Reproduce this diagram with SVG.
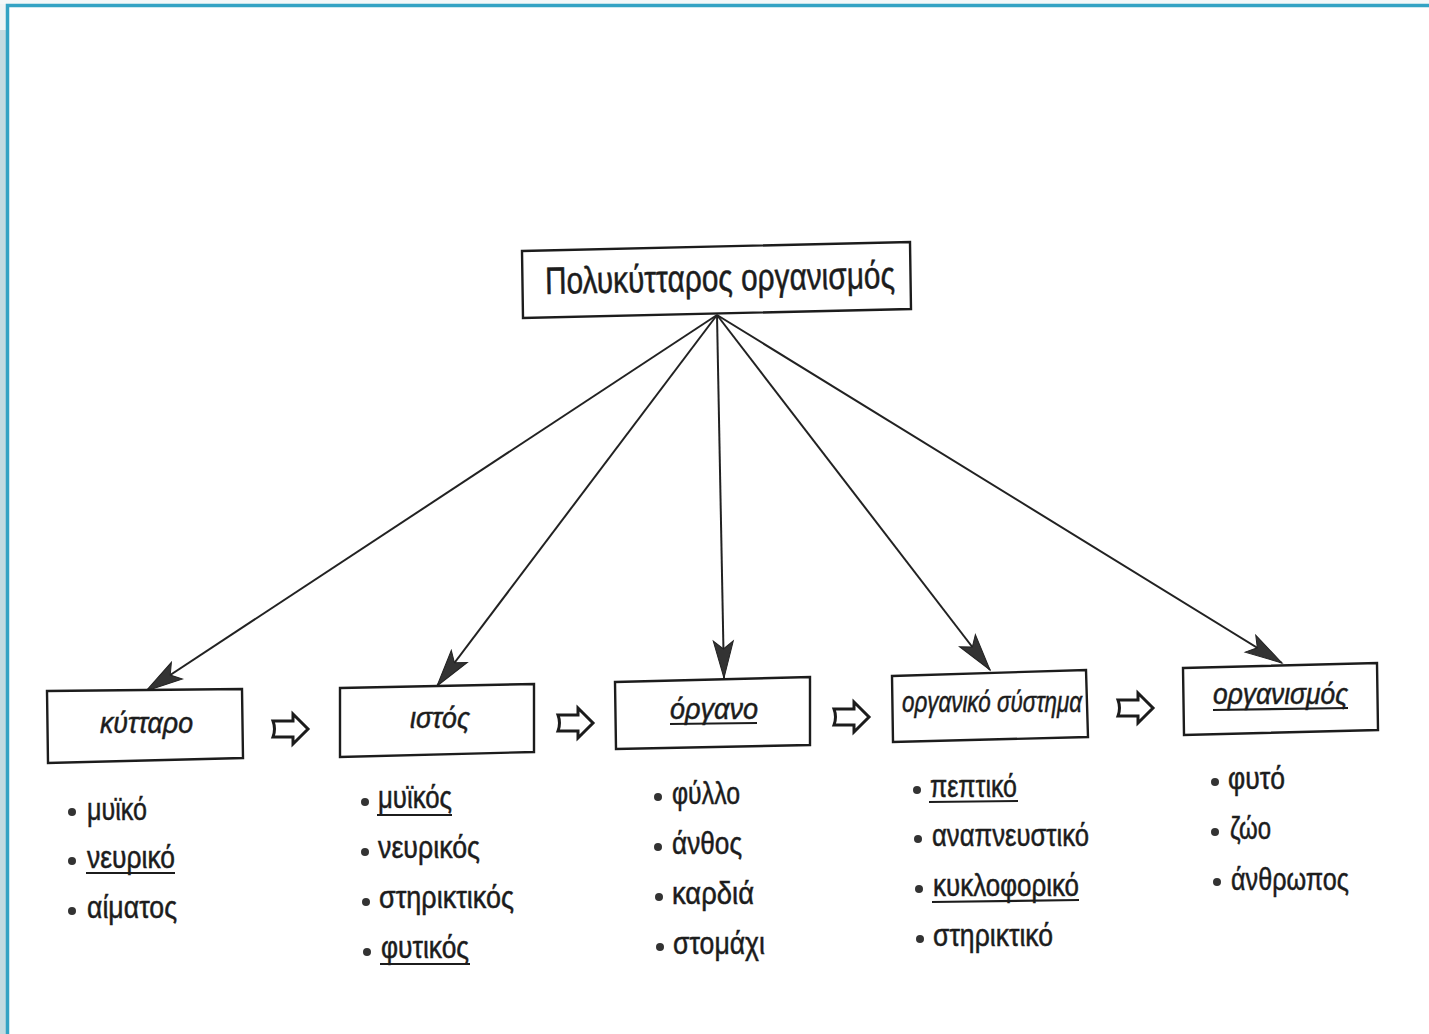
<svg xmlns="http://www.w3.org/2000/svg" width="1429" height="1034" viewBox="0 0 1429 1034">
<style>
.box{fill:#fff;stroke:#1c1c1c;stroke-width:2.4}
.lbl{font-family:"Liberation Sans",Arial,sans-serif;font-style:italic;font-size:29px;fill:#1c1c1c;stroke:#1c1c1c;stroke-width:0.5}
.itm{font-family:"Liberation Sans",Arial,sans-serif;font-size:31px;fill:#1c1c1c;stroke:#1c1c1c;stroke-width:0.5}
.ul{stroke:#1c1c1c;stroke-width:2.2}
.dot{fill:#333}
.con{stroke:#222;stroke-width:2;fill:none}
.ha{fill:#fff;stroke:#1c1c1c;stroke-width:3;stroke-linejoin:miter}
</style>
<defs>
<marker id="ah" markerUnits="userSpaceOnUse" markerWidth="44" markerHeight="26" viewBox="-40 -13 44 26" refX="0" refY="0" orient="auto">
<path d="M0,0 L-37,-10 L-29,0 L-37,10 Z" fill="#333" stroke="#222" stroke-width="1"/>
</marker>
<path id="hollow" d="M0,-8 H20 V-15 L35,0 L20,15 V8 H0 Q3,0 0,-8 Z"/>
</defs>
<rect x="0" y="0" width="1429" height="1034" fill="#fff"/>
<rect x="0" y="0" width="7" height="1034" fill="#c2dbe1"/>
<rect x="0" y="0" width="7" height="30" fill="#eef4f5"/>
<rect x="0" y="0" width="1429" height="4" fill="#f3f8f9"/>
<path d="M7.5,1034 V5.5 H1429" fill="none" stroke="#33a3c4" stroke-width="3.5"/>

<g id="connectors">
<line class="con" x1="717" y1="315" x2="146" y2="691" marker-end="url(#ah)"/>
<line class="con" x1="717" y1="315" x2="437" y2="686" marker-end="url(#ah)"/>
<line class="con" x1="717" y1="315" x2="724" y2="678" marker-end="url(#ah)"/>
<line class="con" x1="717" y1="315" x2="990" y2="670" marker-end="url(#ah)"/>
<line class="con" x1="717" y1="315" x2="1282" y2="663" marker-end="url(#ah)"/>
<use href="#hollow" class="ha" transform="translate(273,729)"/>
<use href="#hollow" class="ha" transform="translate(558,723)"/>
<use href="#hollow" class="ha" transform="translate(834,717)"/>
<use href="#hollow" class="ha" transform="translate(1118,708)"/>
</g>

<g id="root">
<polygon class="box" points="522,251 910,242 911,309 523,318"/>
<text x="545" y="291" textLength="350" lengthAdjust="spacingAndGlyphs" font-family="Liberation Sans, Arial, sans-serif" font-size="38" fill="#1c1c1c" stroke="#1c1c1c" stroke-width="0.5" transform="rotate(-1 716 285)">Πολυκύτταρος οργανισμός</text>
</g>

<g id="kyttaro">
<polygon class="box" points="47,691 242,689 243,758 48,763"/>
<text class="lbl" x="100" y="733" textLength="93" lengthAdjust="spacingAndGlyphs">κύτταρο</text>
<circle class="dot" cx="72" cy="812" r="4"/>
<text class="itm" x="87" y="820" textLength="60" lengthAdjust="spacingAndGlyphs">μυϊκό</text>
<circle class="dot" cx="72" cy="861" r="4"/>
<text class="itm" x="87" y="868" textLength="88" lengthAdjust="spacingAndGlyphs">νευρικό</text>
<line class="ul" x1="86" y1="873" x2="175" y2="873"/>
<circle class="dot" cx="72" cy="911" r="4"/>
<text class="itm" x="87" y="918" textLength="90" lengthAdjust="spacingAndGlyphs">αίματος</text>
</g>

<g id="istos">
<polygon class="box" points="340,688 534,684 534,752 340,757"/>
<text class="lbl" x="410" y="728" textLength="60" lengthAdjust="spacingAndGlyphs">ιστός</text>
<circle class="dot" cx="365" cy="802" r="4"/>
<text class="itm" x="378" y="808" textLength="74" lengthAdjust="spacingAndGlyphs">μυϊκός</text>
<line class="ul" x1="377" y1="815" x2="452" y2="815"/>
<circle class="dot" cx="365" cy="852" r="4"/>
<text class="itm" x="378" y="858" textLength="102" lengthAdjust="spacingAndGlyphs">νευρικός</text>
<circle class="dot" cx="366" cy="902" r="4"/>
<text class="itm" x="379" y="908" textLength="135" lengthAdjust="spacingAndGlyphs">στηρικτικός</text>
<circle class="dot" cx="367" cy="952" r="4"/>
<text class="itm" x="381" y="958" textLength="88" lengthAdjust="spacingAndGlyphs">φυτικός</text>
<line class="ul" x1="380" y1="964" x2="470" y2="964"/>
</g>

<g id="organo">
<polygon class="box" points="615,682 810,677 810,745 616,749"/>
<text class="lbl" x="670" y="719" textLength="88" lengthAdjust="spacingAndGlyphs">όργανο</text>
<line class="ul" x1="670" y1="724" x2="757" y2="723"/>
<circle class="dot" cx="658" cy="797" r="4"/>
<text class="itm" x="672" y="804" textLength="68" lengthAdjust="spacingAndGlyphs">φύλλο</text>
<circle class="dot" cx="658" cy="847" r="4"/>
<text class="itm" x="672" y="854" textLength="70" lengthAdjust="spacingAndGlyphs">άνθος</text>
<circle class="dot" cx="659" cy="897" r="4"/>
<text class="itm" x="672" y="904" textLength="82" lengthAdjust="spacingAndGlyphs">καρδιά</text>
<circle class="dot" cx="660" cy="947" r="4"/>
<text class="itm" x="673" y="954" textLength="92" lengthAdjust="spacingAndGlyphs">στομάχι</text>
</g>

<g id="organiko-systima">
<polygon class="box" points="892,676 1086,670 1088,737 893,742"/>
<text class="lbl" x="902" y="712" textLength="180" lengthAdjust="spacingAndGlyphs">οργανικό σύστημα</text>
<circle class="dot" cx="917" cy="790" r="4"/>
<text class="itm" x="930" y="797" textLength="87" lengthAdjust="spacingAndGlyphs">πεπτικό</text>
<line class="ul" x1="929" y1="802" x2="1018" y2="801"/>
<circle class="dot" cx="918" cy="839" r="4"/>
<text class="itm" x="932" y="846" textLength="157" lengthAdjust="spacingAndGlyphs">αναπνευστικό</text>
<circle class="dot" cx="919" cy="889" r="4"/>
<text class="itm" x="933" y="896" textLength="146" lengthAdjust="spacingAndGlyphs">κυκλοφορικό</text>
<line class="ul" x1="932" y1="902" x2="1079" y2="900"/>
<circle class="dot" cx="920" cy="939" r="4"/>
<text class="itm" x="933" y="946" textLength="120" lengthAdjust="spacingAndGlyphs">στηρικτικό</text>
</g>

<g id="organismos">
<polygon class="box" points="1183,668 1377,663 1378,730 1184,735"/>
<text class="lbl" x="1213" y="704" textLength="135" lengthAdjust="spacingAndGlyphs">οργανισμός</text>
<line class="ul" x1="1213" y1="710" x2="1348" y2="708"/>
<circle class="dot" cx="1215" cy="782" r="4"/>
<text class="itm" x="1228" y="789" textLength="57" lengthAdjust="spacingAndGlyphs">φυτό</text>
<circle class="dot" cx="1215" cy="832" r="4"/>
<text class="itm" x="1230" y="839" textLength="41" lengthAdjust="spacingAndGlyphs">ζώο</text>
<circle class="dot" cx="1217" cy="882" r="4"/>
<text class="itm" x="1231" y="890" textLength="118" lengthAdjust="spacingAndGlyphs">άνθρωπος</text>
</g>
</svg>
